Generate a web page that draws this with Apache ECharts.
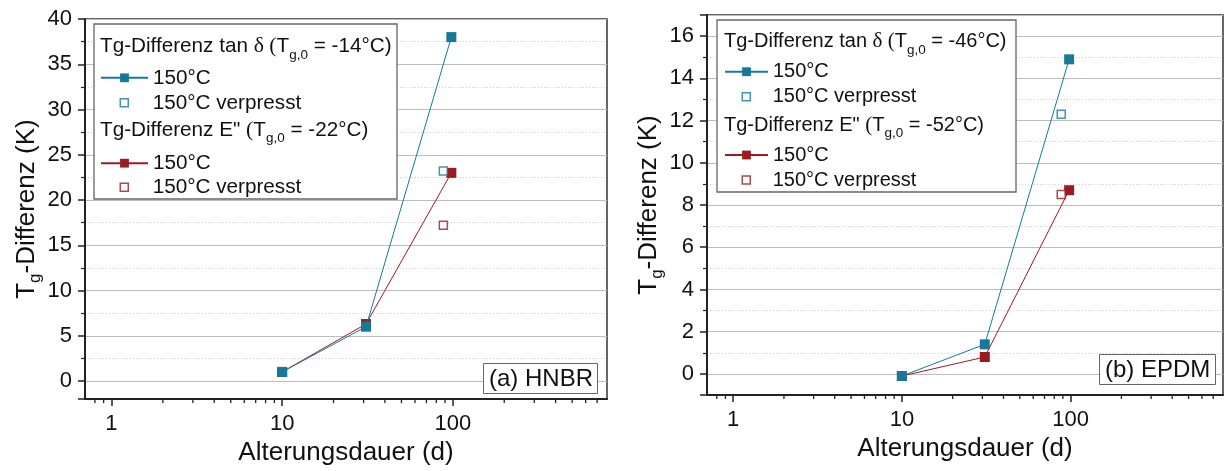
<!DOCTYPE html>
<html>
<head>
<meta charset="utf-8">
<script src="https://cdn.jsdelivr.net/npm/echarts@6/dist/echarts.min.js"></script>
<style>
html,body{margin:0;padding:0;background:#fff;}
#chart{width:1226px;height:471px;}
</style>
</head>
<body>
<div id="chart"></div>
<script>
// ---------- data ----------
const agingDays = [10, 31, 98];          // Alterungsdauer (d), 150°C
const agingDaysPressed = [88];           // 150°C verpresst
const hnbrTanDelta = [1.0, 6.0, 38.0];
const hnbrTanDeltaPressed = [23.2];
const hnbrELoss = [1.0, 6.3, 23.0];
const hnbrELossPressed = [17.2];
const epdmTanDelta = [-0.1, 1.4, 14.9];
const epdmTanDeltaPressed = [12.3];
const epdmELoss = [-0.1, 0.8, 8.7];
const epdmELossPressed = [8.5];
const logMinorTicks = [0.8, 0.9, 2, 3, 4, 5, 6, 7, 8, 9, 20, 30, 40, 50, 60, 70, 80, 90, 200, 300, 400, 500, 600, 700];
const xName = 'Alterungsdauer (d)';
const yNameMain = 'T';
const yNameSub = 'g';
const yNameRest = '-Differenz (K)';
const headTan = 'Tg-Differenz tan ';
const headE = 'Tg-Differenz E" ';
const tg0Hnbr = ['-14°C', '-22°C'];
const tg0Epdm = ['-46°C', '-52°C'];
const itemLabel1 = '150°C';
const itemLabel2 = '150°C verpresst';
const panelLabels = ['(a) HNBR', '(b) EPDM'];

// ---------- style ----------
const BLUE = '#17799a';
const RED = '#9b1b20';
const FONT = '"Liberation Sans", Arial, sans-serif';
const SERIF = '"Liberation Serif", "Times New Roman", serif';

const chart = echarts.init(document.getElementById('chart'), null, {renderer: 'canvas'});

function pairs(xs, ys) { return xs.map((x, i) => [x, ys[i]]); }

const panels = [
  {grid: {left: 85, right: 619, top: 19, height: 384}, yMin: -2, yMax: 40, split: 8, showMax: true,
   box: [94, 24, 303, 175], lx: 100, iw: 47, rows: [46.7, 77.3, 102.3, 130, 162.7, 186.7], fs: 20.7,
   tg0: tg0Hnbr, tan: hnbrTanDelta, tanP: hnbrTanDeltaPressed, e: hnbrELoss, eP: hnbrELossPressed,
   tag: 'HNBR', label: panelLabels[0], lab: [483, 363]},
  {grid: {left: 707, right: 3, top: 15, height: 380}, yMin: -1, yMax: 17, split: 9, showMax: false,
   box: [717, 20, 299, 172], lx: 724, iw: 43, rows: [41.7, 71.7, 96.7, 125, 155, 180], fs: 20,
   tg0: tg0Epdm, tan: epdmTanDelta, tanP: epdmTanDeltaPressed, e: epdmELoss, eP: epdmELossPressed,
   tag: 'EPDM', label: panelLabels[1], lab: [1099, 354]}
];

const option = {
  animation: false,
  backgroundColor: '#fff',
  textStyle: {fontFamily: FONT},
  grid: [], xAxis: [], yAxis: [], series: [], legend: [], title: [], graphic: []
};

const displayName = {};

function minorTickRender(params, api) {
  const x = api.coord([api.value(0), api.value(1)])[0];
  const cs = params.coordSys;
  const yb = cs.y + cs.height;
  return {type: 'line', shape: {x1: x, y1: yb, x2: x, y2: yb + 4}, style: {stroke: '#222', lineWidth: 1.3}};
}

panels.forEach((p, i) => {
  option.grid.push(Object.assign({show: true, borderColor: '#333', borderWidth: 1.5, containLabel: false}, p.grid));
  option.xAxis.push({
    type: 'log', logBase: 10, gridIndex: i, min: 0.7, max: 800,
    name: xName, nameLocation: 'middle', nameGap: 40,
    nameTextStyle: {fontSize: 26, color: '#111', fontFamily: FONT},
    axisLine: {show: true, onZero: false, lineStyle: {color: '#222', width: 2}},
    axisTick: {show: true, inside: false, length: 7, lineStyle: {color: '#222', width: 1.5}},
    axisLabel: {fontSize: 22, color: '#111', margin: 14, showMinLabel: false, showMaxLabel: false, fontFamily: FONT},
    splitLine: {show: false}, minorTick: {show: false}
  });
  option.yAxis.push({
    type: 'value', gridIndex: i, min: p.yMin, max: p.yMax, splitNumber: p.split,
    name: '{m|' + yNameMain + '}{s|' + yNameSub + '}{m|' + yNameRest + '}',
    nameLocation: 'middle', nameGap: 40, nameRotate: 90,
    nameTextStyle: {color: '#111', rich: {
      m: {fontSize: 26, fontFamily: FONT, color: '#111'},
      s: {fontSize: 17, fontFamily: FONT, color: '#111', padding: [16, 0, 0, 0]}
    }},
    axisLine: {show: true, onZero: false, lineStyle: {color: '#222', width: 2}},
    axisTick: {show: true, inside: false, length: 7, lineStyle: {color: '#222', width: 1.5}},
    minorTick: {show: true, splitNumber: 2, length: 4, lineStyle: {color: '#222', width: 1.2}},
    axisLabel: {fontSize: 22, color: '#111', margin: 13, showMinLabel: false, showMaxLabel: p.showMax, fontFamily: FONT},
    splitLine: {show: true, lineStyle: {color: '#bdbdbd', width: 1}},
    minorSplitLine: {show: true, lineStyle: {color: '#cfcfcf', width: 1, type: [1, 2]}}
  });

  const nTan = p.tag + ' tan 150', nTanP = p.tag + ' tan verpresst';
  const nE = p.tag + ' E 150', nEP = p.tag + ' E verpresst';
  displayName[nTan] = itemLabel1; displayName[nTanP] = itemLabel2;
  displayName[nE] = itemLabel1; displayName[nEP] = itemLabel2;

  option.series.push(
    {name: nE, type: 'line', xAxisIndex: i, yAxisIndex: i, data: pairs(agingDays, p.e),
     symbol: 'rect', symbolSize: 10, lineStyle: {color: RED, width: 1}, itemStyle: {color: RED}, z: 3},
    {name: nTan, type: 'line', xAxisIndex: i, yAxisIndex: i, data: pairs(agingDays, p.tan),
     symbol: 'rect', symbolSize: 10, lineStyle: {color: BLUE, width: 1}, itemStyle: {color: BLUE}, z: 4},
    {name: nEP, type: 'scatter', xAxisIndex: i, yAxisIndex: i, data: pairs(agingDaysPressed, p.eP),
     symbol: 'rect', symbolSize: 8, itemStyle: {color: '#fff', borderColor: RED, borderWidth: 1.5}, z: 3},
    {name: nTanP, type: 'scatter', xAxisIndex: i, yAxisIndex: i, data: pairs(agingDaysPressed, p.tanP),
     symbol: 'rect', symbolSize: 8, itemStyle: {color: '#fff', borderColor: BLUE, borderWidth: 1.5}, z: 3},
    {type: 'custom', xAxisIndex: i, yAxisIndex: i, data: logMinorTicks.map(v => [v, p.yMin]),
     renderItem: minorTickRender, clip: false, silent: true, z: 5}
  );

  // legend box
  option.graphic.push({type: 'rect', shape: {x: p.box[0], y: p.box[1], width: p.box[2], height: p.box[3]},
    style: {fill: '#fff', stroke: '#666', lineWidth: 1.3}, z: 10});
  const rich = {
    t: {fontSize: p.fs, fontFamily: FONT, fill: '#111'},
    g: {fontSize: p.fs + 1, fontFamily: SERIF, fill: '#111'},
    s: {fontSize: 13.5, fontFamily: FONT, fill: '#111', padding: [17, 0, 0, 0]}
  };
  [[headTan, '{g|δ (}', p.tg0[0], p.rows[0]], [headE, '{g|(}', p.tg0[1], p.rows[3]]].forEach(h => {
    option.graphic.push({type: 'text', x: p.lx, y: h[3], z: 11,
      style: {text: '{t|' + h[0] + '}' + h[1] + '{t|T}{s|g,0}{t| = ' + h[2] + ')}', rich: rich,
              verticalAlign: 'middle', align: 'left'}});
  });
  // legends (one item each so each can be placed between headings)
  const spacer = p.iw / 2 - 4;
  const items = [[nTan, p.rows[1], false], [nTanP, p.rows[2], true], [nE, p.rows[4], false], [nEP, p.rows[5], true]];
  items.forEach(it => {
    const hollow = it[2];
    option.legend.push({
      data: [it[0]], left: hollow ? p.lx + p.iw / 2 - 4 : p.lx, top: it[1] - 10, orient: 'vertical', padding: 0,
      itemWidth: hollow ? 8 : p.iw, itemHeight: hollow ? 8 : 11, selectedMode: false, z: 12,
      formatter: n => hollow ? '{sp| }{t|' + displayName[n] + '}' : displayName[n],
      itemStyle: {borderWidth: 1.5},
      textStyle: {fontSize: p.fs, color: '#111', fontFamily: FONT, lineHeight: 20,
        rich: {sp: {width: spacer, fontSize: p.fs}, t: {fontSize: p.fs, color: '#111', fontFamily: FONT}}}
    });
  });
  // panel label
  option.title.push({text: p.label, left: p.lab[0], top: p.lab[1], borderColor: '#666', borderWidth: 1,
    padding: [4, 5, 3, 6], backgroundColor: '#fff', z: 12,
    textStyle: {fontSize: 24, fontWeight: 'normal', color: '#111', fontFamily: FONT}});
});

chart.setOption(option);
</script>
</body>
</html>
